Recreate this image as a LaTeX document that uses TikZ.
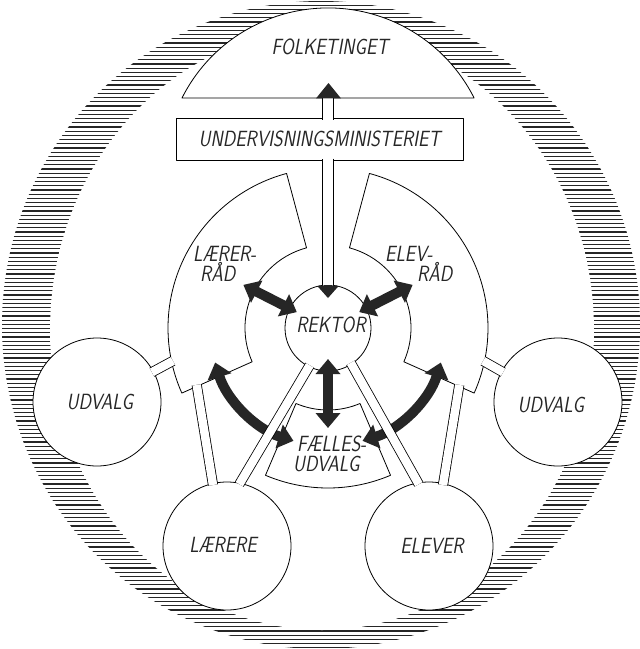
\documentclass[tikz,border=0pt]{standalone}
\usepackage{graphicx}
\usetikzlibrary{arrows.meta,calc}
\tikzset{
  outl/.style={draw=black, line width=0.8pt, fill=white, line join=round},
  hatch/.style={black!85, line width=1.3pt},
  pipe/.style={draw=black, line width=0.8pt, double=white, double distance=8.5pt},
  vpipe/.style={pipe, double distance=10pt},
  darr/.style={draw=black!85, line width=10pt, {Triangle[width=24pt,length=15pt]}-{Triangle[width=24pt,length=15pt]}},
  circ/.style={outl, circle, inner sep=0pt, minimum size=128pt},
  lbl/.style={font=\fontsize{22}{20}\selectfont\sffamily\slshape, text=black!85, inner sep=0pt},
  blk/.style={fill=black!85},
}
\newcommand{\hl}[1]{\scalebox{0.84}[1]{#1}}
\begin{document}
\begin{tikzpicture}[x=1pt,y=-1pt]
\useasboundingbox (0,0) rectangle (640,649);
% hatched border
\begin{scope}
\clip (321,325) ellipse [x radius=319, y radius=324];
\foreach \k in {0,...,155} \draw[hatch] (0,{1+4.2*\k}) -- (640,{1+4.2*\k});
\end{scope}
\fill[white] (322,330) ellipse [x radius=272, y radius=300];

\coordinate (C) at (328,328);

% Folketinget
\draw[outl] (182,98) arc[start angle=-153.3, end angle=-26.7, radius=163.5] -- cycle;
% Undervisningsministeriet
\node[outl, rectangle, minimum width=287pt, minimum height=42pt, inner sep=0pt, lbl] (min) at (319.5,139) {\hl{UNDERVISNINGSMINISTERIET}};

% Laererraad ring
\draw[outl] ($(C)+(156:83)$) -- ($(C)+(156:160)$) arc[start angle=156, end angle=255, radius=160]
  -- ($(C)+(255:83)$) arc[start angle=255, end angle=156, radius=83] -- cycle;
% Elevraad ring
\draw[outl] ($(C)+(24:83)$) -- ($(C)+(24:160)$) arc[start angle=24, end angle=-75, radius=160]
  -- ($(C)+(-75:83)$) arc[start angle=-75, end angle=24, radius=83] -- cycle;
% Faellesudvalg ring
\draw[outl] ($(C)+(67:82)$) -- ($(C)+(67:160)$) arc[start angle=67, end angle=113, radius=160]
  -- ($(C)+(113:82)$) arc[start angle=113, end angle=67, radius=82] -- cycle;

% circles
\node[circ, minimum size=86pt] (rek) at (C) {};
\node[circ] (udvL) at (97,402) {};
\node[circ] (udvR) at (558,402) {};
\node[circ] (lar) at (227,546) {};
\node[circ] (elv) at (429,546) {};

% black arrows
\draw[darr] ($(C)+(207:35)$) -- ($(C)+(207:95)$);
\draw[darr] ($(C)+(333:35)$) -- ($(C)+(333:95)$);
\draw[darr] ($(C)+(90:31)$) -- ($(C)+(90:100)$);
\draw[darr] ($(C)+(163:118)$) arc[start angle=163, end angle=107, radius=118];
\draw[darr] ($(C)+(17:118)$) arc[start angle=17, end angle=73, radius=118];

% pipes
\coordinate (vf1) at (328,96.5);   \coordinate (vf2) at (328,119.5);
\coordinate (vr1) at (328,158.5);  \coordinate (vr2) at (328,286.5);
\draw[vpipe] (vf1) -- (vf2);
\draw[vpipe] (vr1) -- (vr2);
\coordinate (pl1) at (196.7,384.9); \coordinate (pl2) at (213,485);
\coordinate (pe1) at (459.3,384.9); \coordinate (pe2) at (443,485);
\draw[pipe] (pl1) -- (pl2);
\draw[pipe] (pe1) -- (pe2);
\coordinate (ul1) at (151.9,372.25); \coordinate (ul2) at (172.9,360.9);
\coordinate (ur1) at (503.1,372.25); \coordinate (ur2) at (483.1,360.9);
\draw[pipe] (ul1) -- (ul2);
\draw[pipe] (ur1) -- (ur2);
\coordinate (dl1) at (309.7,365.3); \coordinate (dl2) at (239.3,484.2);
\coordinate (dr1) at (350.7,362.8); \coordinate (dr2) at (418.8,484.2);
\draw[pipe] (dl1) -- (dl2);
\draw[pipe] (dr1) -- (dr2);

% arrowheads of the vertical pipe
\fill[blk] (316,98.4) -- (341,98.4) -- (328.5,83) -- cycle;
\fill[blk] (328,298) -- ($(C)+(-104:43)$) arc[start angle=-104, end angle=-76, radius=43] -- cycle;

% labels
\node[lbl] (tFolk) at (330,47) {\hl{FOLKETINGET}};
\node[lbl] (tRek) at (331,325) {\hl{REKTOR}};
\node[lbl, align=left, anchor=north west] (tLR) at (193,246) {\hl{LÆRER-}\\\hspace*{7pt}\hl{RÅD}};
\node[lbl, align=left, anchor=north west] (tER) at (385,246) {\hl{ELEV-}\\\hspace*{32pt}\hl{RÅD}};
\node[lbl, align=left, anchor=north west] (tFU) at (293,436) {\hspace*{4pt}\hl{FÆLLES-}\\\hl{UDVALG}};
\node[lbl] (tUL) at (100,402) {\hl{UDVALG}};
\node[lbl] (tUR) at (551,405) {\hl{UDVALG}};
\node[lbl] (tLa) at (223,545) {\hl{LÆRERE}};
\node[lbl] (tEl) at (432,546) {\hl{ELEVER}};
\end{tikzpicture}
\end{document}
